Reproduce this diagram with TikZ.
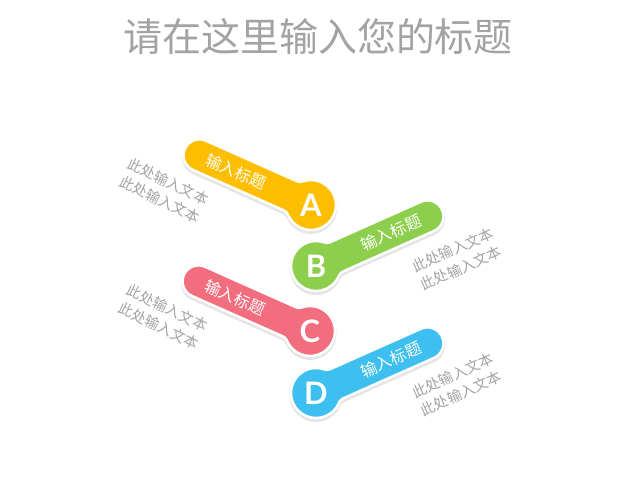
\documentclass[tikz,border=0pt]{standalone}
\usepackage{fontspec}
\usepackage{tikz}
\usetikzlibrary{calc}
\newfontfamily\cjk{Noto Sans CJK SC}
\newfontfamily\letterfont{Lato}
\definecolor{colA}{HTML}{FEBE00}
\definecolor{colB}{HTML}{8DCF4C}
\definecolor{colC}{HTML}{F26D7E}
\definecolor{colD}{HTML}{3DBFEF}
\definecolor{textgray}{HTML}{A3A3A3}
\newcommand\tabpath{(-122,16) -- (-22.65,16) arc[start angle=-90, end angle=-46.65, radius=8pt]
    arc[start angle=133.35, end angle=-133.35, radius=25pt]
    arc[start angle=46.65, end angle=90, radius=8pt] -- (-122,-16)
    arc[start angle=-90, end angle=-270, radius=16pt] -- cycle}

\begin{document}
\begin{tikzpicture}[x=1pt,y=1pt]
        \useasboundingbox (0,0) rectangle (635,484);
        \node[text=textgray, font=\cjk\fontsize{39}{39}\selectfont] (title) at (318,447) {请在这里输入您的标题};
        \foreach \n/\cx/\cy/\rot/\col/\br/\tx/\ty/\tr in {A/311/279/-24/colA/-24/164/293.5/-26,
            B/316/218/204/colB/24/457/225/24,
            C/310/153/-24/colC/-24/163/167/-26,
            D/316/91/204/colD/24/457/99.5/24}
        {
        \begin{scope}[shift={(\cx,\cy-2.5)},rotate=\rot]
            \filldraw[black!10, line width=3pt] \tabpath;
        \end{scope}
        \begin{scope}[shift={(\cx,\cy)},rotate=\rot]
            \filldraw[fill=\col, draw=white, line width=2.5pt] \tabpath;
            \node[text=white, rotate=\br, font=\cjk\fontsize{16}{16}\selectfont] (head-\n) at (-82,0) {输入标题};
        \end{scope}
        \node[text=white, font=\letterfont\bfseries\fontsize{31}{31}\selectfont] (key-\n) at (\cx,\cy) {\n};
        \node[text=textgray, rotate=\tr, align=left, font=\cjk\fontsize{14.5}{20}\selectfont] (note-\n) at (\tx,\ty) {此处输入文本\\此处输入文本};
        }
    \end{tikzpicture}
\end{document}
